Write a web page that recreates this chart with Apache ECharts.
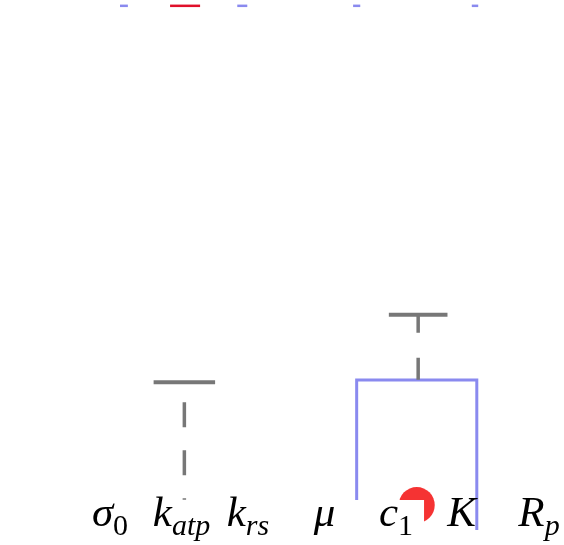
<!DOCTYPE html>
<html>
<head>
<meta charset="utf-8">
<script src="https://cdn.jsdelivr.net/npm/echarts@6/dist/echarts.min.js"></script>
<style>
  html, body { margin: 0; padding: 0; background: #fff; }
  #main { width: 564px; height: 545px; }
</style>
</head>
<body>
<div id="main"></div>
<script>
// parameter names (main letter + subscript)
const paramMain = ["σ", "k", "k", "μ", "c", "K", "R"];
const paramSub = ["0", "atp", "rs", "", "1", "", "p"];

// box (x in category units, y in axis units)
const boxCenter = [4.29];
const boxHalf = [0.84];
const boxLow = [-1];
const boxHigh = [2.83];

// whiskers: x, top (cap), bottom end, cap half width
const whiskerX = [1.04, 4.31];
const whiskerTop = [2.79, 4.06];
const whiskerEnd = [0.57, 2.83];
const whiskerCap = [0.43, 0.41];

// red marker
const markerX = [4.29];
const markerY = [0.47];

// cut-off marks along the top edge: from, to, y
const topBlueFrom = [0.14, 1.78, 3.4, 5.06];
const topBlueTo = [0.25, 1.92, 3.5, 5.15];
const topRedFrom = [0.84];
const topRedTo = [1.26];
const topY = 9.89;

const whiskerDash = [[25, 23], [22, 25]];
const whiskerDashOffset = [28, 4];

const chartDom = document.getElementById("main");
const myChart = echarts.init(chartDom);

const serif = "Liberation Serif";

function labelFormatter(value, index) {
  const main = paramMain[index];
  const sub = paramSub[index];
  // c1 sits on a white patch
  if (main === "c") {
    return "{cp|}{cm|" + main + "}{cd|" + sub + "}{sp|}";
  }
  let s = "{m|" + main + "}";
  if (sub) {
    s += /^[0-9]+$/.test(sub) ? "{d|" + sub + "}" : "{s|" + sub + "}";
  }
  // the original labels are not quite centred under K and k_rs
  if (main === "K") s += "{g12|}";
  if (sub === "rs") s += "{g10|}";
  return s;
}

const boxData = boxCenter.map((c, i) => [c, boxHalf[i], boxLow[i], boxHigh[i]]);
const whiskerData = whiskerX.map((x, i) => [x, whiskerTop[i], whiskerEnd[i], whiskerCap[i]]);
const topData = topBlueFrom
  .map((f, i) => [f, topBlueTo[i], topY, 0])
  .concat(topRedFrom.map((f, i) => [f, topRedTo[i], topY, 1]));

const mainText = { fontFamily: serif, fontStyle: "italic", fontSize: 43, color: "#000", verticalAlign: "top" };
const subText = { fontFamily: serif, fontSize: 30, color: "#000", verticalAlign: "top" };

const option = {
  animation: false,
  grid: { left: 74.25, width: 500.5, top: 0, bottom: 15, outerBoundsMode: "none" },
  xAxis: [
    {
      type: "category",
      data: paramMain.map((m, i) => m + paramSub[i]),
      z: 10,
      axisLine: { show: false },
      axisTick: { show: false },
      splitLine: { show: false },
      axisLabel: {
        interval: 0,
        margin: -30,
        verticalAlign: "top",
        color: "#000",
        formatter: labelFormatter,
        rich: {
          m: Object.assign({}, mainText, { height: 30 }),
          s: Object.assign({}, subText, { fontStyle: "italic", height: 20, padding: [17, 0, 0, 0] }),
          d: Object.assign({}, subText, { height: 20, padding: [17, 0, 0, 0] }),
          cp: { width: 25, height: 30, verticalAlign: "top", backgroundColor: "#fff" },
          cm: Object.assign({}, mainText, { height: 26, padding: [2, 0, 2, 0], backgroundColor: "#fff" }),
          cd: Object.assign({}, subText, { height: 6, padding: [24, 11, 0, 0], backgroundColor: "#fff" }),
          sp: { width: 14, height: 30, verticalAlign: "top" },
          g12: { width: 12, height: 30, verticalAlign: "top" },
          g10: { width: 10, height: 30, verticalAlign: "top" },
        },
      },
    },
    { type: "value", min: -0.5, max: 6.5, show: false },
  ],
  yAxis: { type: "value", min: 0, max: 10, show: false },
  series: [
    {
      type: "custom",
      xAxisIndex: 1,
      clip: true,
      data: boxData,
      renderItem: function (params, api) {
        const p1 = api.coord([api.value(0) - api.value(1), api.value(3)]);
        const p2 = api.coord([api.value(0) + api.value(1), api.value(2)]);
        return {
          type: "rect",
          shape: { x: p1[0], y: p1[1], width: p2[0] - p1[0], height: p2[1] - p1[1] },
          style: { fill: "none", stroke: "#8a8aef", lineWidth: 3 },
        };
      },
    },
    {
      type: "custom",
      xAxisIndex: 1,
      clip: true,
      data: whiskerData,
      renderItem: function (params, api) {
        const i = params.dataIndex;
        const top = api.coord([api.value(0), api.value(1)]);
        const end = api.coord([api.value(0), api.value(2)]);
        const capL = api.coord([api.value(0) - api.value(3), api.value(1)]);
        const capR = api.coord([api.value(0) + api.value(3), api.value(1)]);
        return {
          type: "group",
          children: [
            {
              type: "line",
              shape: { x1: top[0], y1: top[1], x2: end[0], y2: end[1] },
              style: {
                stroke: "#777",
                lineWidth: 3.5,
                lineDash: whiskerDash[i],
                lineDashOffset: whiskerDashOffset[i],
              },
            },
            {
              type: "line",
              shape: { x1: capL[0], y1: capL[1], x2: capR[0], y2: capR[1] },
              style: { stroke: "#777", lineWidth: 4 },
            },
          ],
        };
      },
    },
    {
      type: "custom",
      xAxisIndex: 1,
      clip: true,
      data: topData,
      renderItem: function (params, api) {
        const a = api.coord([api.value(0), api.value(2)]);
        const b = api.coord([api.value(1), api.value(2)]);
        return {
          type: "line",
          shape: { x1: a[0], y1: a[1], x2: b[0], y2: b[1] },
          style: {
            stroke: api.value(3) === 1 ? "#e0102a" : "#8a8aef",
            lineWidth: 2.5,
          },
        };
      },
    },
    {
      type: "scatter",
      xAxisIndex: 1,
      data: markerX.map((x, i) => [x, markerY[i]]),
      symbol: "circle",
      symbolSize: 36,
      itemStyle: { color: "#f20000" },
    },
  ],
};

myChart.setOption(option);
</script>
</body>
</html>
